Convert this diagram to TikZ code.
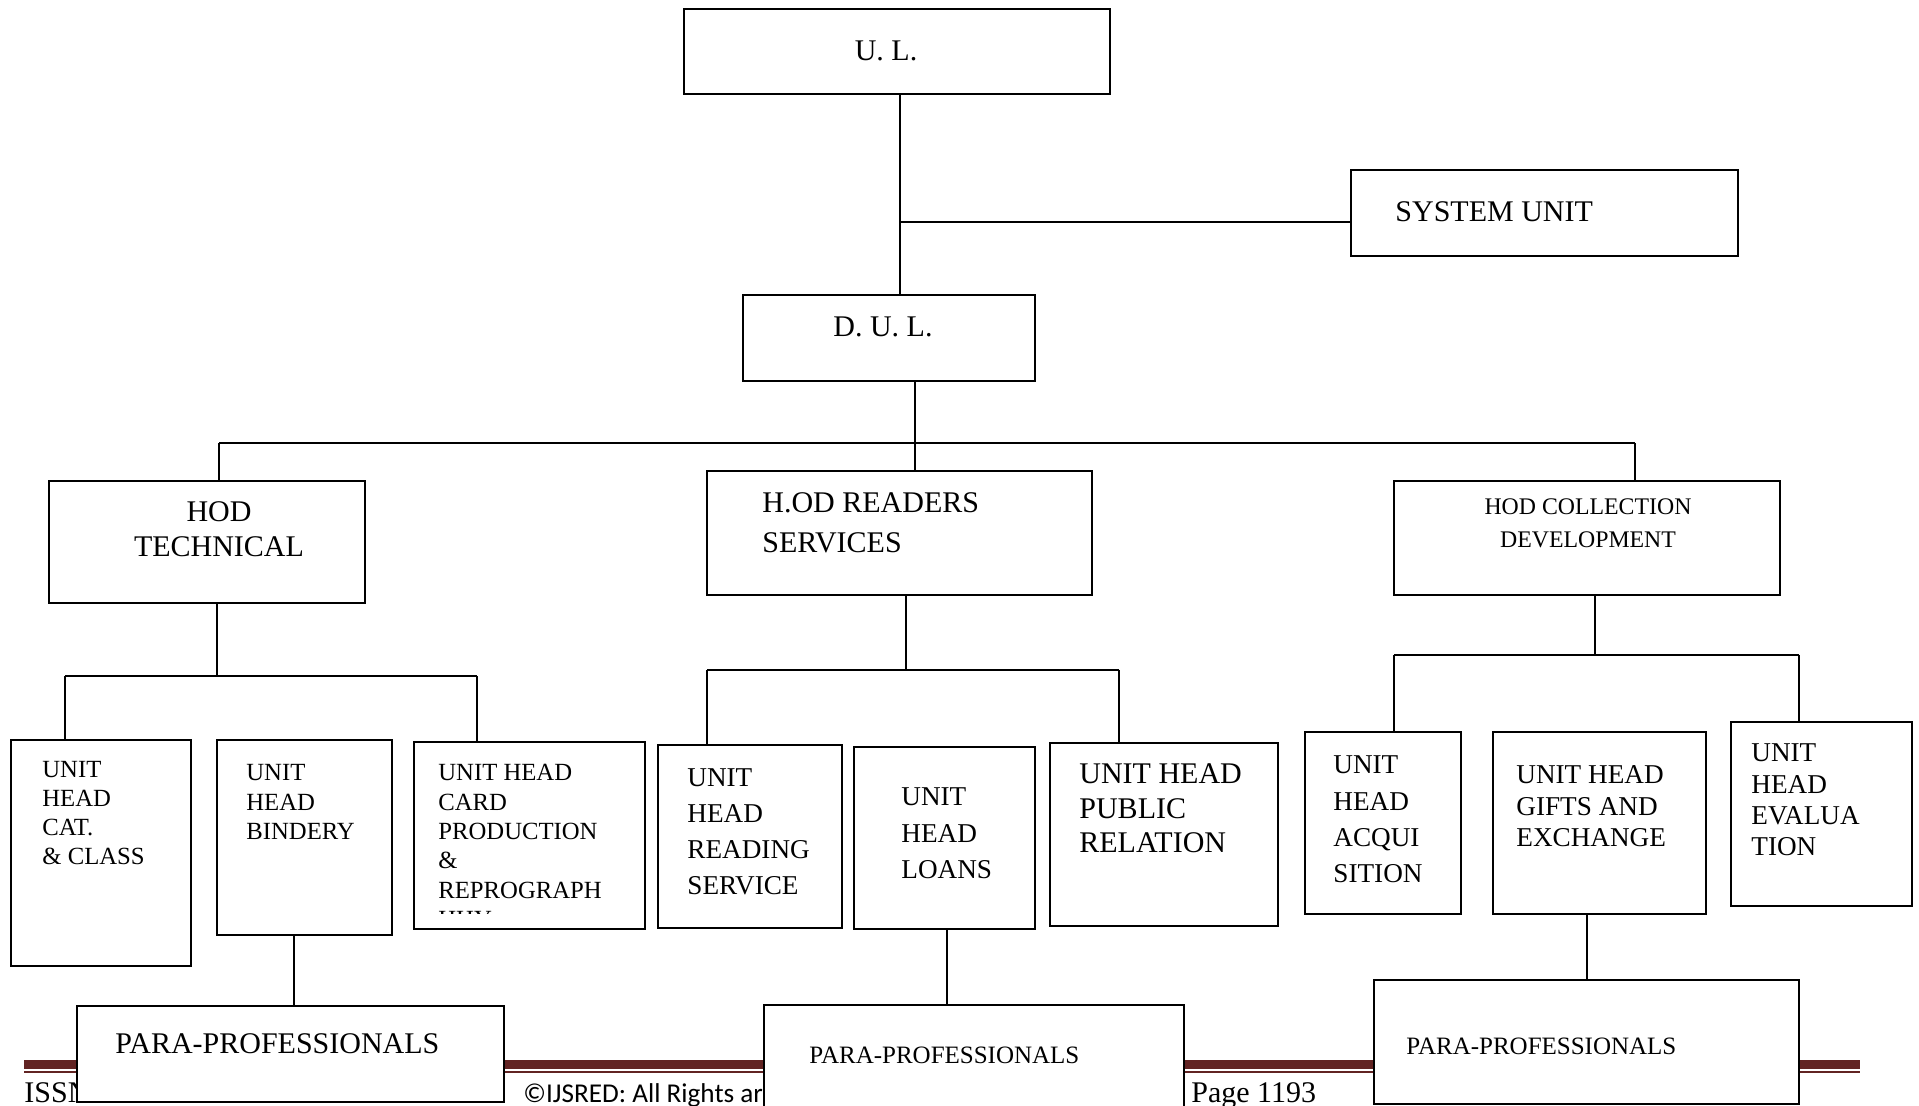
\documentclass[tikz,border=0pt]{standalone}
\usepackage{fontspec}
\setmainfont{Liberation Serif}
\newfontfamily\footsans{Carlito}
\usetikzlibrary{fit}
\definecolor{footred}{RGB}{98,36,35}
\newcommand\fbig{\fontsize{15}{18}\selectfont}
\newcommand\fcoll{\fontsize{11.9}{14}\selectfont}
\newcommand\ftech{\fontsize{12.35}{14}\selectfont}
\newcommand\fread{\fontsize{13.6}{16}\selectfont}
\newcommand\fpara{\fontsize{12.5}{15}\selectfont}
\newcommand\ffoot{\fontsize{15}{18}\selectfont}
\newcommand\ffoots{\footsans\fontsize{13.6}{16}\selectfont}
\tikzset{
  box/.style={draw, line width=1.1pt, fill=white, inner sep=0pt},
  conn/.style={line width=1pt},
  lbl/.style={inner sep=0pt, anchor=base west},
  clbl/.style={inner sep=0pt, anchor=base},
}
\newcommand\txtlines[6]{%
  \foreach \myline [count=\k from 0] in {#6} {\node[lbl, font=#5] (#1-\k) at (#2, {#3+\k*#4}) {\myline};}}
\begin{document}
\begin{tikzpicture}[x=0.5pt, y=-0.5pt]
\useasboundingbox (0,0) rectangle (1919,1106);
% footer
\fill[footred] (24,1059.5) rectangle (1860,1068.5);
\fill[footred] (24,1070.5) rectangle (1860,1073);
\node[lbl, font=\ffoot] (issn) at (24,1102) {ISSN};
\node[lbl, font=\ffoots] (copy) at (523,1102) {©IJSRED: All Rights ar};
\node[lbl, font=\ffoot] (page) at (1191,1102) {Page 1193};
% boxes
\node[box, fit={(684,9) (1110,94)}] (ul) {};
\node[box, fit={(1351,170) (1738,256)}] (sys) {};
\node[box, fit={(743,295) (1035,381)}] (dul) {};
\node[box, fit={(49,481) (365,603)}] (tech) {};
\node[box, fit={(707,471) (1092,595)}] (read) {};
\node[box, fit={(1394,481) (1780,595)}] (coll) {};
\node[box, fit={(11,740) (191,966)}] (cat) {};
\node[box, fit={(217,740) (392,935)}] (bind) {};
\node[box, fit={(414,742) (645,929)}] (card) {};
\node[box, fit={(658,745) (842,928)}] (reading) {};
\node[box, fit={(854,747) (1035,929)}] (loans) {};
\node[box, fit={(1050,743) (1278,926)}] (pub) {};
\node[box, fit={(1305,732) (1461,914)}] (acq) {};
\node[box, fit={(1493,732) (1706,914)}] (gifts) {};
\node[box, fit={(1731,722) (1912,906)}] (eval) {};
\node[box, fit={(77,1006) (504,1102)}] (para1) {};
\node[box, fit={(764,1005) (1184,1112)}] (para2) {};
\node[box, fit={(1374,980) (1799,1104)}] (para3) {};
% texts
\node[clbl, font=\fbig] (ult) at (886,61) {U. L.};
\node[clbl, font=\fbig] (dult) at (883,337) {D. U. L.};
\node[lbl, font=\fbig] (syst) at (1395,222) {SYSTEM UNIT};
\node[clbl, font=\fbig] (tech-0) at (219,522) {HOD};
\node[clbl, font=\fbig] (tech-1) at (219,557) {TECHNICAL};
\txtlines{readt}{762}{513}{40}{\fbig}{H.OD READERS, SERVICES}
\node[clbl, font=\fcoll] (coll-0) at (1588,515) {HOD COLLECTION};
\node[clbl, font=\fcoll] (coll-1) at (1588,548) {DEVELOPMENT};
\txtlines{catt}{42}{778}{28.7}{\ftech}{UNIT, HEAD, CAT., \& CLASS}
\txtlines{bindt}{246}{781}{29.5}{\ftech}{UNIT, HEAD, BINDERY}
\txtlines{cardt}{438}{781}{29.3}{\ftech}{UNIT HEAD, CARD, PRODUCTION, \&, REPROGRAPH}
\begin{scope}
  \clip (414,742) rectangle (645,914);
  \node[lbl, font=\ftech] (cardt-5) at (438,927.5) {HHY};
\end{scope}
\txtlines{readingt}{687}{787}{36}{\fread}{UNIT, HEAD, READING, SERVICE}
\txtlines{loanst}{901}{806}{36.5}{\fread}{UNIT, HEAD, LOANS}
\txtlines{pubt}{1079}{784}{34.5}{\fbig}{UNIT HEAD, PUBLIC, RELATION}
\txtlines{acqt}{1333}{774}{36.3}{\fread}{UNIT, HEAD, ACQUI, SITION}
\txtlines{giftst}{1516}{784}{31.5}{\fread}{UNIT HEAD, GIFTS AND, EXCHANGE}
\txtlines{evalt}{1751}{762}{31.3}{\fread}{UNIT, HEAD, EVALUA, TION}
\node[lbl, font=\fbig] (para1t) at (115,1053) {PARA-PROFESSIONALS};
\node[lbl, font=\fpara] (para2t) at (809,1063) {PARA-PROFESSIONALS};
\node[lbl, font=\fpara] (para3t) at (1406,1054) {PARA-PROFESSIONALS};
% connectors
\coordinate (j1) at (900,222);
\draw[conn] (j1 |- ul.south) -- (j1 |- dul.north);
\draw[conn] (j1) -- (j1 -| sys.west);
\coordinate (bl) at (219,443);
\coordinate (br) at (1635,443);
\coordinate (bm) at (915,443);
\draw[conn] (bl) -- (br);
\draw[conn] (bm |- dul.south) -- (bm |- read.north);
\draw[conn] (bl) -- (bl |- tech.north);
\draw[conn] (br) -- (br |- coll.north);
% technical
\coordinate (tl) at (65,676);
\coordinate (tr) at (477,676);
\coordinate (tm) at (217,676);
\draw[conn] (tm |- tech.south) -- (tm);
\draw[conn] (tl) -- (tr);
\draw[conn] (tl) -- (tl |- cat.north);
\draw[conn] (tr) -- (tr |- card.north);
\coordinate (b1) at (294,970);
\draw[conn] (b1 |- bind.south) -- (b1 |- para1.north);
% readers
\coordinate (rl) at (707,670);
\coordinate (rr) at (1119,670);
\coordinate (rm) at (906,670);
\draw[conn] (rm |- read.south) -- (rm);
\draw[conn] (rl) -- (rr);
\draw[conn] (rl) -- (rl |- reading.north);
\draw[conn] (rr) -- (rr |- pub.north);
\coordinate (b2) at (947,970);
\draw[conn] (b2 |- loans.south) -- (b2 |- para2.north);
% collection
\coordinate (cl) at (1394,655);
\coordinate (cr) at (1799,655);
\coordinate (cm) at (1595,655);
\draw[conn] (cm |- coll.south) -- (cm);
\draw[conn] (cl) -- (cr);
\draw[conn] (cl) -- (cl |- acq.north);
\draw[conn] (cr) -- (cr |- eval.north);
\coordinate (b3) at (1587,950);
\draw[conn] (b3 |- gifts.south) -- (b3 |- para3.north);
\end{tikzpicture}
\end{document}
